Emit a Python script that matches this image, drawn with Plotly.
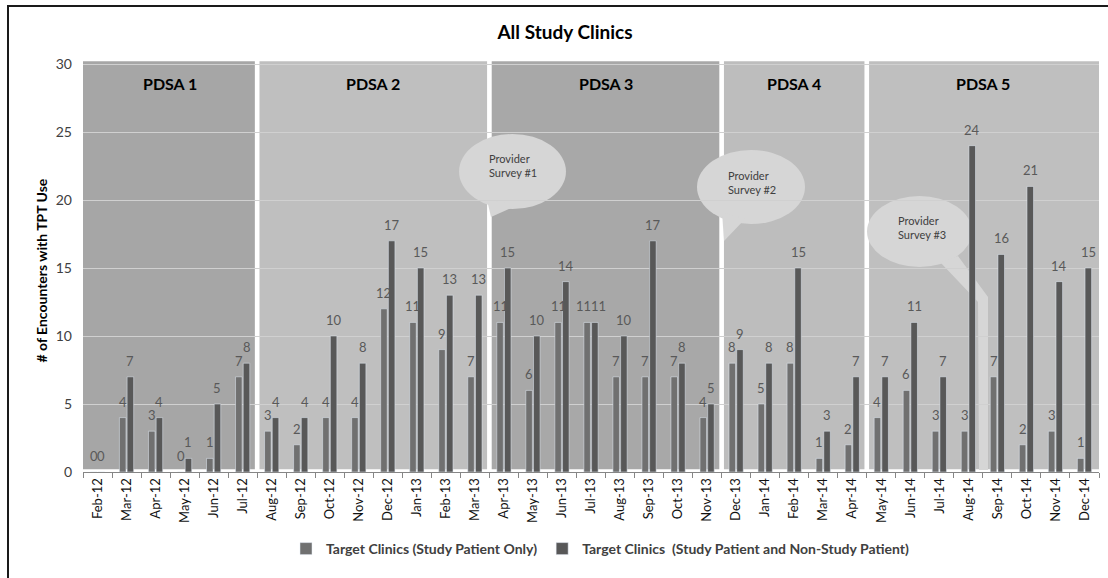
import plotly.graph_objects as go

months = ["Feb-12", "Mar-12", "Apr-12", "May-12", "Jun-12", "Jul-12", "Aug-12", "Sep-12", "Oct-12",
          "Nov-12", "Dec-12", "Jan-13", "Feb-13", "Mar-13", "Apr-13", "May-13", "Jun-13", "Jul-13",
          "Aug-13", "Sep-13", "Oct-13", "Nov-13", "Dec-13", "Jan-14", "Feb-14", "Mar-14", "Apr-14",
          "May-14", "Jun-14", "Jul-14", "Aug-14", "Sep-14", "Oct-14", "Nov-14", "Dec-14"]

study_only = [0, 4, 3, 0, 1, 7, 3, 2, 4, 4, 12, 11, 9, 7, 11, 6, 11, 11, 7, 7, 7, 4,
              8, 5, 8, 1, 2, 4, 6, 3, 3, 7, 2, 3, 1]
study_and_non = [0, 7, 4, 1, 5, 8, 4, 4, 10, 8, 17, 15, 13, 13, 15, 10, 14, 11, 10, 17, 8, 5,
                 9, 8, 15, 3, 7, 7, 11, 7, 24, 16, 21, 14, 15]

pdsa_names = ["PDSA 1", "PDSA 2", "PDSA 3", "PDSA 4", "PDSA 5"]
pdsa_first = ["Feb-12", "Aug-12", "Apr-13", "Dec-13", "May-14"]
pdsa_last = ["Jul-12", "Mar-13", "Nov-13", "Apr-14", "Dec-14"]
pdsa_colors = ["#a6a6a6", "#bfbfbf", "#a8a8a8", "#bdbdbd", "#bfbfbf"]

survey_labels = ["Provider<br>Survey #1", "Provider<br>Survey #2", "Provider<br>Survey #3"]

FONT = "Lato, 'Open Sans', sans-serif"

# pixel geometry helpers (plot area: x 83..1099, y 60..472)
L, R, T, B = 83, 1099, 60, 472
NCAT = len(months)
cw = (R - L) / NCAT
YMAX = 30.3
ypx = (B - T) / YMAX
BARGAP = 0.47


def dx(px):
    return (px - L) / cw - 0.5


def dy(py):
    return (B - py) / ypx


def paper_x(px):
    return (px - L) / (R - L)


def paper_y(py):
    return (B - py) / (B - T)


fig = go.Figure()
fig.add_trace(go.Bar(
    x=months, y=study_only, name="<b>Target Clinics (Study Patient Only)</b>",
    marker_color="#707070",
))
fig.add_trace(go.Bar(
    x=months, y=study_and_non, name="<b>Target Clinics  (Study Patient and Non-Study Patient)</b>",
    marker_color="#585858",
))

shapes = []
annotations = []

# value labels above each bar (offsets follow the grouped-bar layout)
slot = (1 - BARGAP) / 2
for s, (series, off) in enumerate(((study_only, -slot / 2), (study_and_non, slot / 2))):
    for i, v in enumerate(series):
        other = study_and_non[i] if s == 0 else study_only[i]
        # two-digit labels at equal height: nudge apart so they sit side by side
        shift = 0
        if v >= 10 and other >= 10 and abs(v - other) < 1:
            shift = -4 if s == 0 else 4
        annotations.append(dict(x=i + off, y=v, xref="x", yref="y", text=str(v), showarrow=False,
                                yanchor="bottom", yshift=6, xshift=shift,
                                font=dict(size=13, color="#595959", family=FONT)))

gap = 0.08
for i, name in enumerate(pdsa_names):
    a = months.index(pdsa_first[i]) - 0.5
    b = months.index(pdsa_last[i]) + 0.5
    x0 = a + (gap if i > 0 else 0)
    x1 = b - (gap if i < len(pdsa_names) - 1 else 0)
    shapes.append(dict(type="rect", xref="x", yref="y", x0=x0, x1=x1, y0=0.2, y1=30.2,
                       fillcolor=pdsa_colors[i], line=dict(width=0), layer="below"))
    annotations.append(dict(x=(a + b) / 2, y=dy(83), xref="x", yref="y", text="<b>%s</b>" % name,
                            showarrow=False, font=dict(size=16, color="#000000", family=FONT)))

# speech bubbles: (ellipse px box), tail polygon px, text anchor px
bubbles = [
    ((459, 134, 566, 209), [(487, 200), (491, 217), (518, 205)], (487, 165)),
    ((697, 150, 805, 224), [(722, 212), (724, 241), (745, 219)], (726, 182)),
    ((867, 196, 972, 267), [(940, 262), (978, 302), (979, 470), (988, 470), (988, 297), (958, 256)], (896, 227)),
]
for k, (box, tail, tpos) in enumerate(bubbles):
    shapes.append(dict(type="circle", xref="x", yref="y", x0=dx(box[0]), x1=dx(box[2]),
                       y0=dy(box[3]), y1=dy(box[1]), fillcolor="#d6d6d6", line=dict(width=0),
                       layer="below"))
    path = "M " + " L ".join("%f,%f" % (dx(p[0]), dy(p[1])) for p in tail) + " Z"
    shapes.append(dict(type="path", xref="x", yref="y", path=path, fillcolor="#d6d6d6",
                       line=dict(width=0), layer="below"))
    annotations.append(dict(x=dx(tpos[0]), y=dy(tpos[1]), xref="x", yref="y", text=survey_labels[k],
                            showarrow=False, xanchor="left", align="left",
                            font=dict(size=11, color="#404040", family=FONT)))

# outer frame (top and left edges visible)
shapes.append(dict(type="line", xref="paper", yref="paper", x0=paper_x(7), x1=paper_x(1110),
                   y0=paper_y(6), y1=paper_y(6), line=dict(color="#1a1a1a", width=2)))
shapes.append(dict(type="line", xref="paper", yref="paper", x0=paper_x(8), x1=paper_x(8),
                   y0=paper_y(6), y1=paper_y(580), line=dict(color="#1a1a1a", width=2)))

annotations.append(dict(x=paper_x(30), y=paper_y(271), xref="paper", yref="paper",
                        text="<b># of Encounters with TPT Use</b>", textangle=-90, showarrow=False,
                        font=dict(size=14, color="#000000", family=FONT)))

fig.update_layout(
    width=1108, height=578,
    margin=dict(l=L, r=1108 - R, t=T, b=578 - B),
    paper_bgcolor="white", plot_bgcolor="white",
    title=dict(text="<b>All Study Clinics</b>", x=565 / 1108, xanchor="center", xref="container",
               y=1 - 32 / 578, yanchor="middle", font=dict(size=19, color="#000000", family=FONT)),
    barmode="group", bargap=BARGAP, bargroupgap=0.15,
    shapes=shapes, annotations=annotations,
    showlegend=True,
    legend=dict(orientation="h", x=paper_x(600), xanchor="center", y=paper_y(549), yanchor="middle",
                font=dict(size=14, color="#404040", family=FONT), itemwidth=30,
                bgcolor="rgba(0,0,0,0)", traceorder="normal"),
    font=dict(family=FONT),
)
fig.update_xaxes(type="category", tickangle=-90, tickson="boundaries", ticks="outside", ticklen=5,
                 tickcolor="#868686", showline=True, linecolor="#868686", linewidth=1,
                 showgrid=False, tickfont=dict(size=13, color="#111111", family=FONT),
                 range=[-0.5, NCAT - 0.5], fixedrange=True)
fig.update_yaxes(range=[0, YMAX], tickvals=[0, 5, 10, 15, 20, 25, 30], showgrid=True,
                 gridcolor="#d0d0d0", gridwidth=1, zeroline=False, showline=False,
                 tickfont=dict(size=14, color="#404040", family=FONT), ticks="",
                 ticklabelstandoff=10, fixedrange=True)

fig.write_html("out.html", config={"displayModeBar": False},
               post_script="document.body.style.margin='0';document.body.style.overflow='hidden';")
